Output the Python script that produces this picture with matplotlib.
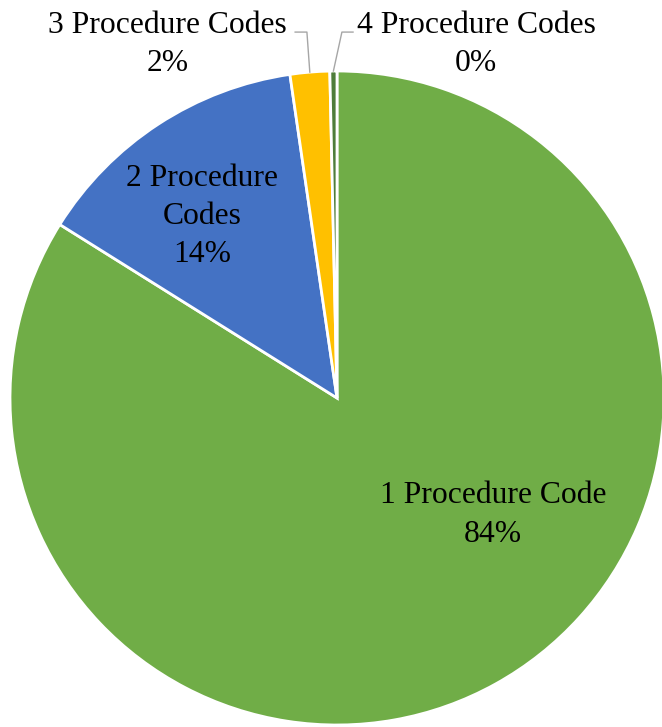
import matplotlib.pyplot as plt
import numpy as np

# slice data (clockwise from 12 o'clock)
labels = ["1 Procedure Code", "2 Procedure\nCodes", "3 Procedure Codes", "4 Procedure Codes"]
shares = [83.9, 13.8, 1.95, 0.35]
shown_pct = ["84%", "14%", "2%", "0%"]
colors = ["#70ad47", "#4472c4", "#ffc000", "#4e7d3a"]

plt.rcParams['font.family'] = ['Liberation Serif', 'DejaVu Serif']

fig = plt.figure(figsize=(6.62, 7.27), dpi=100)
# pie centre ~ (337, 398) px, radius ~327 px
cx, cy, r = 337, 398, 327
W, H = 662, 727
ax = fig.add_axes([(cx - r) / W, (H - cy - r) / H, 2 * r / W, 2 * r / H])

wedges, _ = ax.pie(shares, colors=colors, startangle=90, counterclock=False,
                   radius=1, wedgeprops=dict(edgecolor="white", linewidth=2))
ax.set_xlim(-1, 1)
ax.set_ylim(-1, 1)
ax.set_aspect("equal")
ax.axis("off")

# label positions in pie units
label_pos = [(0.477, -0.358), (-0.413, 0.555), (-0.519, 1.081), (0.425, 1.081)]
for i, (lab, pct) in enumerate(zip(labels, shown_pct)):
    x, y = label_pos[i]
    ax.text(x, y, lab + "\n" + pct, ha="center", va="center", fontsize=22.8,
            linespacing=1.42, color="black")

# leader lines for the small outside labels
knees = {2: [(-0.128, 1.119), (-0.092, 1.119)], 3: [(0.049, 1.119), (0.015, 1.119)]}
for i, pts in knees.items():
    w = wedges[i]
    mid = np.deg2rad((w.theta1 + w.theta2) / 2)
    end = (np.cos(mid) * 1.0, np.sin(mid) * 1.0)
    xs = [p[0] for p in pts] + [end[0]]
    ys = [p[1] for p in pts] + [end[1]]
    ax.plot(xs, ys, color="#a6a6a6", linewidth=1, clip_on=False)

fig.savefig("out.png", dpi=100)
